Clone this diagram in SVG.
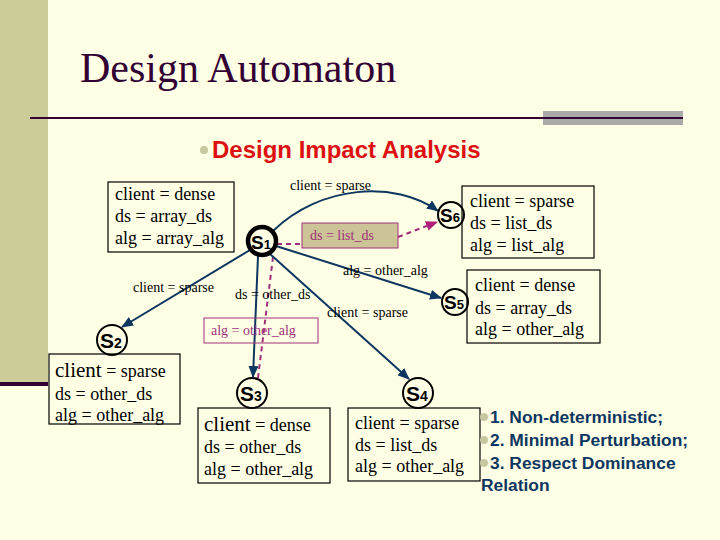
<svg xmlns="http://www.w3.org/2000/svg" width="720" height="540" viewBox="0 0 720 540">
<defs>
<style>
.serif{font-family:"Liberation Serif","Times New Roman",serif;fill:#000}
.box{fill:none;stroke:#000;stroke-width:1.2}
.bt{font-size:18px}
.big{font-size:21px}
.el{font-size:14px}
.st{fill:none;stroke:#000;stroke-width:2}
.sl{font-family:"Liberation Sans",Arial,sans-serif;font-weight:bold;fill:#000}
.edge{fill:none;stroke:#0d3660;stroke-width:2}
.dash{fill:none;stroke:#a0307a;stroke-width:2;stroke-dasharray:5,4}
.mt{font-family:"Liberation Serif",serif;font-size:14px;fill:#a0307a}
.bl{font-family:"Liberation Sans",Arial,sans-serif;font-weight:bold;font-size:17.4px;fill:#0d3660}
.dot{fill:#c8c8a0}
</style>
<marker id="ah" markerWidth="12" markerHeight="10" refX="11" refY="5" orient="auto" markerUnits="userSpaceOnUse">
<path d="M0,0 L12,5 L0,10 Z" fill="#0d3660"/>
</marker>
<marker id="am" markerWidth="12" markerHeight="10" refX="11" refY="5" orient="auto" markerUnits="userSpaceOnUse">
<path d="M0,0 L12,5 L0,10 Z" fill="#b0207a"/>
</marker>
</defs>
<rect width="720" height="540" fill="#FFFFE6"/>
<rect x="0" y="0" width="48" height="383" fill="#CCCC99"/>
<rect x="0" y="382" width="48" height="4" fill="#330033"/>
<text x="80" y="82" font-family="Liberation Serif,serif" font-size="42" fill="#330033">Design Automaton</text>
<rect x="543" y="111" width="140" height="14" fill="#AAAAAA"/>
<line x1="30" y1="118" x2="683" y2="118" stroke="#330033" stroke-width="2"/>
<circle cx="204" cy="150" r="4" class="dot"/>
<text x="212" y="158" font-family="Liberation Sans,Arial,sans-serif" font-weight="bold" font-size="24" fill="#DD1111">Design Impact Analysis</text>

<g id="connectors">
<path class="edge" d="M273,231 C320,185 395,180 438,211" marker-end="url(#ah)"/>
<line class="dash" x1="277" y1="244" x2="302" y2="244"/>
<line class="dash" x1="398" y1="237" x2="437" y2="222" marker-end="url(#am)"/>
<line class="edge" x1="276" y1="246" x2="441" y2="298" marker-end="url(#ah)"/>
<line class="edge" x1="250" y1="250" x2="122" y2="327" marker-end="url(#ah)"/>
<line class="dash" x1="273" y1="257" x2="258" y2="378"/>
<line class="edge" x1="258" y1="256" x2="253" y2="377" marker-end="url(#ah)"/>
<line class="edge" x1="270" y1="254" x2="409" y2="379" marker-end="url(#ah)"/>
<text class="serif el" x="290" y="190">client = sparse</text>
<text class="serif el" x="343" y="275">alg = other_alg</text>
<text class="serif el" x="133" y="292">client = sparse</text>
<text class="serif el" x="235" y="299">ds = other_ds</text>
<text class="serif el" x="327" y="317">client = sparse</text>
<g id="lbl-ds-list">
<rect x="302" y="223" width="96" height="25" fill="#CCC496" stroke="#a0307a" stroke-width="1"/>
<text class="mt" x="310" y="240">ds = list_ds</text>
</g>
<g id="lbl-alg-other">
<rect x="204" y="318" width="114" height="25" fill="none" stroke="#a0307a" stroke-width="1"/>
<text class="mt" x="211" y="335">alg = other_alg</text>
</g>
</g>

<g id="box-s1">
<rect class="box" x="108" y="182" width="126" height="70"/>
<text class="serif bt" x="115" y="200">client = dense</text>
<text class="serif bt" x="115" y="222">ds = array_ds</text>
<text class="serif bt" x="115" y="244">alg = array_alg</text>
</g>
<g id="s1">
<circle cx="262" cy="241" r="14" fill="#FFFFE6" stroke="#000" stroke-width="4.5"/>
<text class="sl" x="251" y="249" font-size="19">S<tspan font-size="13">1</tspan></text>
</g>

<g id="s6">
<circle class="st" cx="451" cy="215" r="13" fill="#FFFFE6"/>
<text class="sl" x="440" y="222" font-size="19">S<tspan font-size="13">6</tspan></text>
</g>
<g id="box-s6">
<rect class="box" x="462" y="186" width="132" height="72"/>
<text class="serif bt" x="470" y="207">client = sparse</text>
<text class="serif bt" x="470" y="229">ds = list_ds</text>
<text class="serif bt" x="470" y="251">alg = list_alg</text>
</g>

<g id="s5">
<circle class="st" cx="455" cy="302" r="13" fill="#FFFFE6"/>
<text class="sl" x="444" y="309" font-size="19">S<tspan font-size="13">5</tspan></text>
</g>
<g id="box-s5">
<rect class="box" x="467" y="270" width="133" height="73"/>
<text class="serif bt" x="475" y="291">client = dense</text>
<text class="serif bt" x="475" y="314">ds = array_ds</text>
<text class="serif bt" x="475" y="335">alg = other_alg</text>
</g>

<g id="s2">
<circle class="st" cx="112" cy="340" r="15" fill="#FFFFE6"/>
<text class="sl" x="100" y="348" font-size="21">S<tspan font-size="14">2</tspan></text>
</g>
<g id="box-s2">
<rect class="box" x="49" y="354" width="131" height="70"/>
<text class="serif bt" x="55" y="377"><tspan class="big">client</tspan> = sparse</text>
<text class="serif bt" x="55" y="400">ds = other_ds</text>
<text class="serif bt" x="55" y="421">alg = other_alg</text>
</g>

<g id="s3">
<circle class="st" cx="252" cy="393" r="15" fill="#FFFFE6"/>
<text class="sl" x="240" y="401" font-size="21">S<tspan font-size="14">3</tspan></text>
</g>
<g id="box-s3">
<rect class="box" x="198" y="408" width="132" height="75"/>
<text class="serif bt" x="204" y="431"><tspan class="big">client</tspan> = dense</text>
<text class="serif bt" x="204" y="453">ds = other_ds</text>
<text class="serif bt" x="204" y="475">alg = other_alg</text>
</g>

<g id="s4">
<circle class="st" cx="418" cy="393" r="15" fill="#FFFFE6"/>
<text class="sl" x="406" y="401" font-size="21">S<tspan font-size="14">4</tspan></text>
</g>
<g id="box-s4">
<rect class="box" x="348" y="408" width="132" height="73"/>
<text class="serif bt" x="355" y="429">client = sparse</text>
<text class="serif bt" x="355" y="451">ds = list_ds</text>
<text class="serif bt" x="355" y="472">alg = other_alg</text>
</g>

<g id="notes">
<circle cx="484" cy="417" r="4" class="dot"/>
<circle cx="484" cy="440" r="4" class="dot"/>
<circle cx="484" cy="463" r="4" class="dot"/>
<text class="bl" x="490" y="423">1. Non-deterministic;</text>
<text class="bl" x="490" y="446">2. Minimal Perturbation;</text>
<text class="bl" x="490" y="469">3. Respect Dominance</text>
<text class="bl" x="481" y="491">Relation</text>
</g>
</svg>
